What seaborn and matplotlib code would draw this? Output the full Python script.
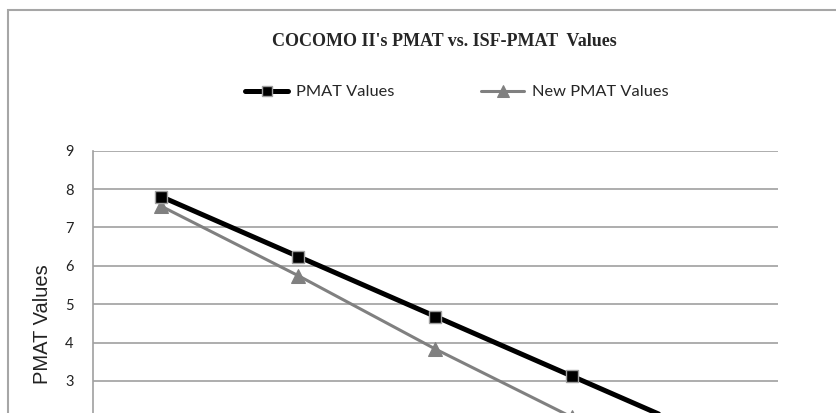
import matplotlib
matplotlib.use("Agg")
import matplotlib.pyplot as plt
import seaborn as sns
import pandas as pd
from matplotlib.patches import Rectangle

# Data
categories = ["Very Low", "Low", "Nominal", "High", "Very High"]
pmat_values = [7.80, 6.24, 4.68, 3.12, 1.56]
new_pmat_values = [7.55, 5.74, 3.83, 2.05, 0.25]
series_names = ["PMAT Values", "New PMAT Values"]
title_text = "COCOMO II's PMAT vs. ISF-PMAT  Values"
y_label = "PMAT Values"
y_ticks = [3, 4, 5, 6, 7, 8, 9]

sns.set_style("white")
plt.rcParams['font.family'] = ['Lato', 'DejaVu Sans']

W, H = 837, 413
fig = plt.figure(figsize=(W / 100, H / 100), dpi=100)

# axes placement (plot area extends below the visible crop)
px_left, px_right = 93, 778
px_top = 150.7
px_per_unit = 38.38
px_bottom = px_top + 9 * px_per_unit
ax = fig.add_axes([px_left / W, 1 - px_bottom / H, (px_right - px_left) / W,
                   (px_bottom - px_top) / H])

df = pd.DataFrame({
    "x": list(range(len(categories))) * 2,
    "value": pmat_values + new_pmat_values,
    "series": [series_names[0]] * len(categories) + [series_names[1]] * len(categories),
})

sns.lineplot(data=df[df.series == series_names[0]], x="x", y="value", ax=ax,
             color="black", linewidth=3.6, marker="s", markersize=9,
             markeredgecolor="#A0A0A0", markeredgewidth=1.0,
             markerfacecolor="black", label=series_names[0], zorder=4)
sns.lineplot(data=df[df.series == series_names[1]], x="x", y="value", ax=ax,
             color="#808080", linewidth=2.2, marker="^", markersize=10,
             markeredgecolor="#808080", markerfacecolor="#808080",
             label=series_names[1], zorder=3)

ax.set_xlim(-0.5, len(categories) - 0.5)
ax.set_ylim(0, 9)
ax.set_yticks(y_ticks)
ax.set_yticklabels([str(t) for t in y_ticks], fontsize=10.5, color="#222222")
ax.set_xticks([])
ax.set_xlabel("")
ax.set_ylabel("")
ax.yaxis.grid(True, color="#A0A0A0", linewidth=1.2)
ax.set_axisbelow(True)
for s in ["top", "right", "bottom"]:
    ax.spines[s].set_visible(False)
ax.spines["left"].set_color("#A0A0A0")
ax.spines["left"].set_linewidth(1.2)
ax.tick_params(axis="y", length=0, pad=14)

fig.text(43 / W, 1 - 324 / H, y_label, rotation=90, ha="center", va="center",
         fontsize=14.5, family=["Liberation Sans", "DejaVu Sans"], color="#222222")

fig.text(444 / W, 1 - 42 / H, title_text, ha="center", va="center",
         fontsize=13, fontweight="bold", family=["Liberation Serif", "DejaVu Serif"])

leg = ax.legend(loc="center", bbox_to_anchor=(457 / W, 1 - 92 / H),
                bbox_transform=fig.transFigure, ncol=2, frameon=False,
                fontsize=11.8, handlelength=2.6, handletextpad=0.5,
                columnspacing=5.3, markerscale=0.8)

# outer chart border
fig.patches.append(Rectangle((8 / W, -0.1), 1.2, 1 - 10 / H + 0.1,
                             transform=fig.transFigure, fill=False,
                             edgecolor="#A6A6A6", linewidth=1.5))

fig.savefig("out.png", dpi=100)
